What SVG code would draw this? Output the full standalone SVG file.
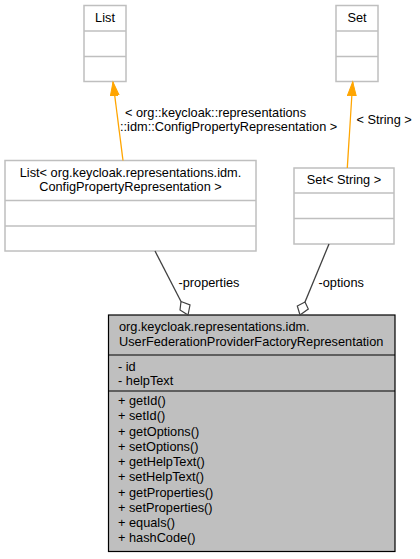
<svg xmlns="http://www.w3.org/2000/svg" width="420" height="559" viewBox="0 0 420 559">
<style>
text{font-family:"Liberation Sans",Arial,sans-serif;font-size:12.75px;fill:#000}
.box{fill:#fff;stroke:#bfbfbf;stroke-width:1.5}
.sep{stroke:#bfbfbf;stroke-width:1.5}
.main{fill:#bfbfbf;stroke:#000;stroke-width:1.2}
.msep{stroke:#000;stroke-width:1.2}
.inh{stroke:#ffa500;stroke-width:1.3;fill:none}
.agg{stroke:#404040;stroke-width:1.3;fill:none}
.dia{fill:#fff;stroke:#404040;stroke-width:1.2}
.c{text-anchor:middle}
</style>
<defs>
<marker id="tri" markerUnits="userSpaceOnUse" markerWidth="16" markerHeight="12" refX="14" refY="4.5" orient="auto">
<path d="M0,0 L14,4.5 L0,9 z" fill="#ffa500" stroke="#ffa500"/>
</marker>
</defs>
<g id="node-list">
<rect class="box" x="84" y="5.5" width="42" height="76"/>
<line class="sep" x1="84" y1="31" x2="126" y2="31"/>
<line class="sep" x1="84" y1="56.5" x2="126" y2="56.5"/>
<text class="c" x="105" y="22">List</text>
</g>
<g id="node-set">
<rect class="box" x="336" y="5.5" width="42" height="76"/>
<line class="sep" x1="336" y1="31" x2="378" y2="31"/>
<line class="sep" x1="336" y1="56.5" x2="378" y2="56.5"/>
<text class="c" x="357" y="22">Set</text>
</g>
<g id="node-listconfig">
<rect class="box" x="5" y="160.5" width="251" height="90.5"/>
<line class="sep" x1="5" y1="200.5" x2="256" y2="200.5"/>
<line class="sep" x1="5" y1="226" x2="256" y2="226"/>
<text class="c" x="130.5" y="176.5">List&lt; org.keycloak.representations.idm.</text>
<text class="c" x="130.5" y="191">ConfigPropertyRepresentation &gt;</text>
</g>
<g id="node-setstring">
<rect class="box" x="294" y="168" width="100" height="76"/>
<line class="sep" x1="294" y1="193" x2="394" y2="193"/>
<line class="sep" x1="294" y1="218.5" x2="394" y2="218.5"/>
<text class="c" x="344" y="184">Set&lt; String &gt;</text>
</g>
<g id="node-main">
<rect class="main" x="108.5" y="315" width="286.5" height="236.5"/>
<line class="msep" x1="108.5" y1="355" x2="395" y2="355"/>
<line class="msep" x1="108.5" y1="391" x2="395" y2="391"/>
<text x="119" y="331">org.keycloak.representations.idm.</text>
<text x="119" y="346">UserFederationProviderFactoryRepresentation</text>
<text x="118" y="370.5">- id</text>
<text x="118" y="385">- helpText</text>
<text x="118" y="405">+ getId()</text>
<text x="118" y="420.25">+ setId()</text>
<text x="118" y="435.5">+ getOptions()</text>
<text x="118" y="450.75">+ setOptions()</text>
<text x="118" y="466">+ getHelpText()</text>
<text x="118" y="481.25">+ setHelpText()</text>
<text x="118" y="496.5">+ getProperties()</text>
<text x="118" y="511.75">+ setProperties()</text>
<text x="118" y="527">+ equals()</text>
<text x="118" y="542.25">+ hashCode()</text>
</g>
<g id="connectors">
<line class="inh" x1="123" y1="160.5" x2="113" y2="82" marker-end="url(#tri)"/>
<text x="125" y="117">&lt; org::keycloak::representations</text>
<text x="120" y="131">::idm::ConfigPropertyRepresentation &gt;</text>
<line class="inh" x1="347.3" y1="168" x2="352.7" y2="82" marker-end="url(#tri)"/>
<text x="356.5" y="124">&lt; String &gt;</text>
<line class="agg" x1="155" y1="251" x2="181" y2="301.5"/>
<polygon class="dia" points="181,301.5 190,305 188,315 180,310"/>
<text x="178.5" y="287">-properties</text>
<line class="agg" x1="329" y1="244" x2="305" y2="302"/>
<polygon class="dia" points="305,302 308.3,309 300,315 297.3,306"/>
<text x="318.5" y="287">-options</text>
</g>
</svg>
